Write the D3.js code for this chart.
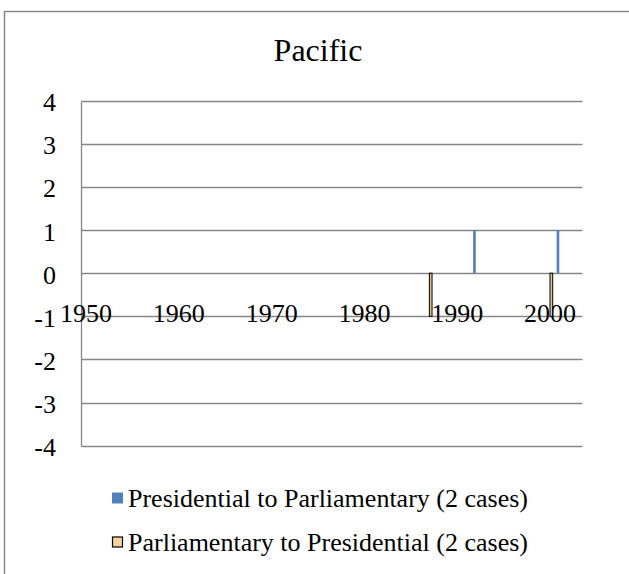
<!DOCTYPE html>
<html>
<head>
<meta charset="utf-8">
<script src="https://cdn.jsdelivr.net/npm/d3@7"></script>
<style>
  body { margin: 0; background: #fff; }
  text { font-family: "Liberation Serif", "Times New Roman", Times, serif; fill: #000; }
</style>
</head>
<body>
<svg id="chart" width="629" height="574"></svg>
<script>
// categories (one per year)
var years = [1950,1951,1952,1953,1954,1955,1956,1957,1958,1959,
             1960,1961,1962,1963,1964,1965,1966,1967,1968,1969,
             1970,1971,1972,1973,1974,1975,1976,1977,1978,1979,
             1980,1981,1982,1983,1984,1985,1986,1987,1988,1989,
             1990,1991,1992,1993,1994,1995,1996,1997,1998,1999,
             2000,2001,2002,2003];
var xTickLabels = [1950, 1960, 1970, 1980, 1990, 2000];
var yTickLabels = [-4, -3, -2, -1, 0, 1, 2, 3, 4];

// series
var presToParl = [ {year: 1992, value: 1}, {year: 2001, value: 1} ];
var parlToPres = [ {year: 1987, value: -1}, {year: 2000, value: -1} ];

var seriesNames = ['Presidential to Parliamentary (2 cases)', 'Parliamentary to Presidential (2 cases)'];

var svg = d3.select('#chart');
var grey = '#868686';

// outer frame (only left and top show in the picture)
svg.append('path')
  .attr('d', 'M4.5,574 L4.5,11.5 L629,11.5')
  .attr('fill', 'none')
  .attr('stroke', grey)
  .attr('stroke-width', 1.5);

svg.append('text')
  .attr('x', 318)
  .attr('y', 61)
  .attr('text-anchor', 'middle')
  .style('font-size', '32px')
  .text('Pacific');

var x = d3.scaleBand().domain(years).range([81.4, 582.5]);
var inner = d3.scaleBand().domain([0, 1]).range([0, x.bandwidth()]).paddingOuter(0.75);
var y = d3.scaleLinear().domain([-4, 4]).range([445.7, 100.7]);

// gridlines
svg.append('g').selectAll('line')
  .data(yTickLabels)
  .enter().append('line')
  .attr('x1', 81.4)
  .attr('x2', 582.5)
  .attr('y1', function(d){ return Math.round(y(d)) + 0.5; })
  .attr('y2', function(d){ return Math.round(y(d)) + 0.5; })
  .attr('stroke', grey)
  .attr('stroke-width', 1.3);

// vertical axis line
svg.append('line')
  .attr('x1', 81.5).attr('x2', 81.5)
  .attr('y1', Math.round(y(4)) + 0.5)
  .attr('y2', Math.round(y(-4)) + 0.5)
  .attr('stroke', grey)
  .attr('stroke-width', 1.3);

// y labels
svg.append('g').selectAll('text')
  .data(yTickLabels)
  .enter().append('text')
  .attr('x', 56)
  .attr('y', function(d){ return y(d) + 10.5; })
  .attr('text-anchor', 'end')
  .style('font-size', '26px')
  .text(function(d){ return d; });

// x labels, below the zero line
svg.append('g').selectAll('text')
  .data(xTickLabels)
  .enter().append('text')
  .attr('x', function(d){ return x(d) + x.bandwidth() / 2; })
  .attr('y', y(0) + 49)
  .attr('text-anchor', 'middle')
  .style('font-size', '26px')
  .text(function(d){ return d; });

// bars
svg.append('g').selectAll('rect')
  .data(presToParl)
  .enter().append('rect')
  .attr('x', function(d){ return x(d.year) + inner(0); })
  .attr('width', inner.bandwidth())
  .attr('y', function(d){ return Math.min(y(d.value), y(0)); })
  .attr('height', function(d){ return Math.abs(y(d.value) - y(0)); })
  .attr('fill', '#4f81bd');

svg.append('g').selectAll('rect')
  .data(parlToPres)
  .enter().append('rect')
  .attr('x', function(d){ return x(d.year) + inner(1); })
  .attr('width', inner.bandwidth())
  .attr('y', function(d){ return Math.min(y(d.value), y(0)); })
  .attr('height', function(d){ return Math.abs(y(d.value) - y(0)); })
  .attr('fill', '#e6c48f')
  .attr('stroke', '#000')
  .attr('stroke-width', 1);

// legend
var legend = svg.append('g');
var legendY = [498, 542];

legend.append('rect')
  .attr('x', 112).attr('y', legendY[0] - 5.5)
  .attr('width', 11).attr('height', 11)
  .attr('fill', '#4f81bd');

legend.append('rect')
  .attr('x', 112.5).attr('y', legendY[1] - 5)
  .attr('width', 10).attr('height', 10)
  .attr('fill', '#f5d39b')
  .attr('stroke', '#000')
  .attr('stroke-width', 1.2);

legend.selectAll('text')
  .data(seriesNames)
  .enter().append('text')
  .attr('x', 128)
  .attr('y', function(d, i){ return legendY[i] + 9; })
  .style('font-size', '26px')
  .text(function(d){ return d; });
</script>
</body>
</html>
